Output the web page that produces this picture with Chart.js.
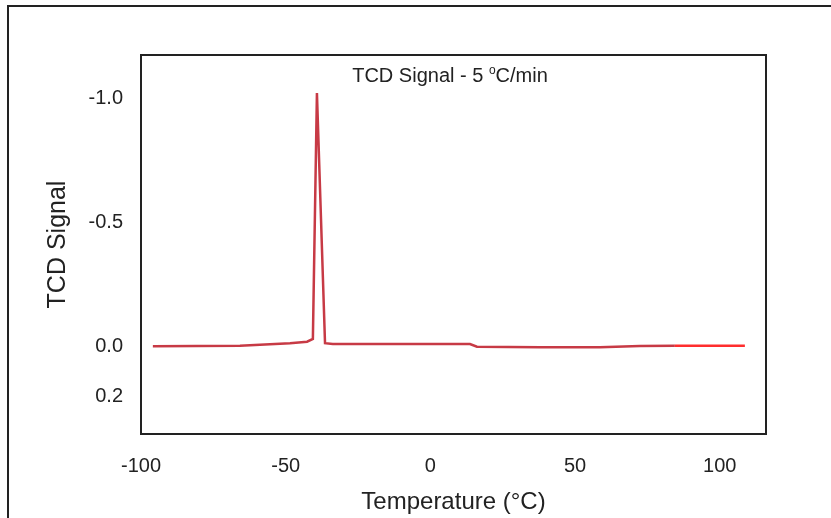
<!DOCTYPE html>
<html>
<head>
<meta charset="utf-8">
<title>TCD Signal - 5 °C/min</title>
<script src="https://cdn.jsdelivr.net/npm/chart.js@4/dist/chart.umd.min.js"></script>
<style>
  html, body { margin: 0; padding: 0; background: #fff; }
  canvas { display: block; }
</style>
</head>
<body>
<canvas id="tcd" width="831" height="518"></canvas>
<script>
// values
const temperatures = [-95.9, -65.8, -48.5, -42.6, -40.6, -39.2, -36.4, -33.7, -10.5, 13.7, 16.1, 37.9, 58.6, 72.4, 84.5, 108.7];
const signal = [-0.003, -0.005, -0.015, -0.021, -0.032, -1.024, -0.015, -0.012, -0.012, -0.012, -0.001, 0.001, 0.001, -0.004, -0.005, -0.005];
const xTicks = [-100, -50, 0, 50, 100];
const yTicks = [-1.0, -0.5, 0.0, 0.2];

const FONT = "'Liberation Sans', Arial, sans-serif";
const INK = '#222';

const framePlugin = {
  id: 'framePlugin',
  beforeDraw(chart) {
    const ctx = chart.ctx;
    ctx.save();
    ctx.fillStyle = '#fff';
    ctx.fillRect(0, 0, chart.width, chart.height);
    ctx.restore();
  },
  afterDraw(chart) {
    const { ctx, chartArea: a } = chart;
    ctx.save();
    ctx.strokeStyle = INK;
    ctx.lineWidth = 2;
    ctx.strokeRect(a.left, a.top, a.right - a.left, a.bottom - a.top);
    // outer figure border (runs off the right and bottom edges)
    ctx.strokeRect(8, 6, 900, 600);

    // title inside the plot, with a small raised "o" for degrees
    const big = '20px ' + FONT, small = '12px ' + FONT;
    const p1 = 'TCD Signal - 5 ', p2 = 'o', p3 = 'C/min';
    ctx.font = big;
    const w1 = ctx.measureText(p1).width, w3 = ctx.measureText(p3).width;
    ctx.font = small;
    const w2 = ctx.measureText(p2).width;
    let x = 450 - (w1 + w2 + w3) / 2;
    const y = 76;
    ctx.fillStyle = INK;
    ctx.textBaseline = 'middle';
    ctx.textAlign = 'left';
    ctx.font = big;
    ctx.fillText(p1, x, y);
    x += w1;
    ctx.font = small;
    ctx.fillText(p2, x, y - 5);
    x += w2;
    ctx.font = big;
    ctx.fillText(p3, x, y);
    ctx.restore();
  }
};

new Chart(document.getElementById('tcd'), {
  type: 'line',
  data: {
    datasets: [{
      label: 'TCD Signal',
      data: temperatures.map((t, i) => ({ x: t, y: signal[i] })),
      borderColor: '#c73a45',
      borderWidth: 2.5,
      pointRadius: 0,
      tension: 0,
      segment: {
        borderColor: c => c.p0.parsed.x >= 84 ? '#ff2e2e' : '#c73a45'
      }
    }]
  },
  options: {
    responsive: false,
    animation: false,
    layout: { padding: { top: 55, right: 65, left: 0, bottom: 0 } },
    plugins: {
      legend: { display: false },
      tooltip: { enabled: false }
    },
    scales: {
      x: {
        type: 'linear',
        min: -100,
        max: 116,
        afterBuildTicks: s => { s.ticks = xTicks.map(v => ({ value: v })); },
        afterFit: s => { s.height = 84; },
        grid: { display: false, drawTicks: false },
        border: { display: false },
        ticks: {
          autoSkip: false,
          maxRotation: 0,
          padding: 20,
          color: INK,
          font: { family: FONT, size: 20 },
          callback: v => String(v)
        },
        title: {
          display: true,
          text: 'Temperature (°C)',
          color: INK,
          font: { family: FONT, size: 24 },
          padding: { top: 0, bottom: 1 }
        }
      },
      y: {
        type: 'linear',
        reverse: true,
        min: -1.177,
        max: 0.351,
        afterBuildTicks: s => { s.ticks = yTicks.map(v => ({ value: v })); },
        afterFit: s => { s.width = 141; },
        grid: { display: false, drawTicks: false },
        border: { display: false },
        ticks: {
          autoSkip: false,
          padding: 18,
          color: INK,
          font: { family: FONT, size: 20 },
          callback: v => Number(v).toFixed(1)
        },
        title: {
          display: true,
          text: 'TCD Signal',
          color: INK,
          font: { family: FONT, size: 25 },
          padding: { top: 43, bottom: 0 }
        }
      }
    }
  },
  plugins: [framePlugin]
});
</script>
</body>
</html>
